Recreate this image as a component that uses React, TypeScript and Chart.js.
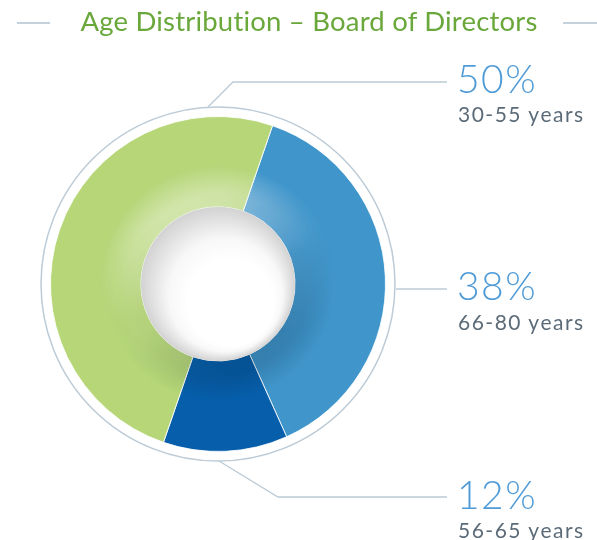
import React, { useEffect, useRef } from "react";
import { Chart, registerables } from "chart.js";

Chart.register(...registerables);

const categories = ["66-80 years", "56-65 years", "30-55 years"];
const shares = [38, 12, 50];
const percentLabels = ["38%", "12%", "50%"];
const sliceColors = ["#4096cb", "#075fab", "#b6d678"];
const titleText = "Age Distribution \u2013 Board of Directors";

const W = 597;
const H = 540;
const LINE = "#bccbd6";

const shadePlugin = {
  id: "shade",
  afterDatasetsDraw(chart: any) {
    const meta = chart.getDatasetMeta(0);
    const arc = meta.data[0];
    if (!arc) return;
    const { x: cx, y: cy, innerRadius: ri, outerRadius: ro } = arc.getProps(["x", "y", "innerRadius", "outerRadius"], true);
    const ctx = chart.ctx;

    const makeLayer = (color: string, a0: number, r1: number, fromTopLeft: boolean) => {
      const off = document.createElement("canvas");
      off.width = W;
      off.height = H;
      const o = off.getContext("2d")!;
      const g = o.createRadialGradient(cx, cy, ri, cx, cy, r1);
      g.addColorStop(0, `rgba(${color},${a0})`);
      g.addColorStop(0.35, `rgba(${color},${a0 * 0.8})`);
      g.addColorStop(1, `rgba(${color},0)`);
      o.fillStyle = g;
      o.beginPath();
      o.arc(cx, cy, ro, 0, Math.PI * 2);
      o.arc(cx, cy, ri, 0, Math.PI * 2, true);
      o.fill();
      o.globalCompositeOperation = "destination-in";
      const lg = fromTopLeft
        ? o.createLinearGradient(cx - ri * 0.4, cy - ri, cx + ri * 0.4, cy + ri)
        : o.createLinearGradient(cx + ri * 0.6, cy + ri, cx - ri * 0.6, cy - ri);
      lg.addColorStop(0, "rgba(0,0,0,1)");
      lg.addColorStop(0.5, "rgba(0,0,0,0.12)");
      lg.addColorStop(1, "rgba(0,0,0,0)");
      o.fillStyle = lg;
      o.fillRect(0, 0, W, H);
      ctx.drawImage(off, 0, 0);
    };
    ctx.save();
    makeLayer("255,255,255", 0.42, ri + 42, true);
    makeLayer("0,20,40", 0.2, ri + 40, false);

    // hole
    const hg = ctx.createRadialGradient(cx + 13, cy + 19, ri * 0.56, cx, cy, ri);
    hg.addColorStop(0, "#ffffff");
    hg.addColorStop(0.4, "#f8f8f8");
    hg.addColorStop(1, "#d2d2d2");
    ctx.fillStyle = hg;
    ctx.beginPath();
    ctx.arc(cx, cy, ri, 0, Math.PI * 2);
    ctx.fill();

    // outer ring
    ctx.strokeStyle = LINE;
    ctx.lineWidth = 1.5;
    ctx.beginPath();
    ctx.arc(cx, cy, ro + 9.5, 0, Math.PI * 2);
    ctx.stroke();

    // leader lines
    const segs: number[][][] = [
      [[-10, -177], [15, -202], [229, -202]],
      [[178, 5], [229, 5]],
      [[1, 177], [60, 213], [229, 213]],
    ];
    ctx.lineWidth = 1.3;
    segs.forEach((pts) => {
      ctx.beginPath();
      pts.forEach(([dx, dy], i) => {
        if (i === 0) ctx.moveTo(cx + dx, cy + dy);
        else ctx.lineTo(cx + dx, cy + dy);
      });
      ctx.stroke();
    });

    // title side lines
    ctx.strokeStyle = "#c3d2dc";
    ctx.lineWidth = 2;
    ctx.beginPath();
    ctx.moveTo(17, 23);
    ctx.lineTo(50, 23);
    ctx.moveTo(563, 23);
    ctx.lineTo(597, 23);
    ctx.stroke();
    ctx.restore();
  },
};

const labelPos = [
  { pctTop: 266, yrsTop: 311 },
  { pctTop: 475, yrsTop: 519 },
  { pctTop: 59, yrsTop: 103 },
];

export default function App() {
  const ref = useRef<HTMLCanvasElement>(null);
  useEffect(() => {
    const chart = new Chart(ref.current!, {
      type: "doughnut",
      data: {
        labels: categories,
        datasets: [
          {
            data: shares,
            backgroundColor: sliceColors,
            borderColor: "rgba(255,255,255,0.85)",
            borderWidth: 1,
          },
        ],
      },
      options: {
        animation: false,
        responsive: false,
        rotation: 19,
        cutout: "46%",
        layout: { padding: { left: 50, right: 211, top: 116, bottom: 88 } },
        plugins: { legend: { display: false }, tooltip: { enabled: false } },
      },
      plugins: [shadePlugin],
    });
    return () => chart.destroy();
  }, []);

  const font = "Lato, 'Open Sans', sans-serif";
  return (
    <div style={{ position: "absolute", left: 0, top: 0, width: W, height: H, background: "#fff", overflow: "hidden" }}>
      <canvas ref={ref} width={W} height={H} style={{ position: "absolute", left: 0, top: 0, width: W, height: H }} />
      <div
        style={{
          position: "absolute",
          left: 0,
          width: 618,
          top: 7,
          textAlign: "center",
          fontFamily: font,
          fontSize: 27.5,
          lineHeight: "28px",
          letterSpacing: 0.2,
          color: "#6aa83c",
          whiteSpace: "nowrap",
        }}
      >
        {titleText}
      </div>
      {categories.map((c, i) => (
        <React.Fragment key={c}>
          <div
            style={{
              position: "absolute",
              left: 457,
              top: labelPos[i].pctTop,
              fontFamily: font,
              fontWeight: 300,
              fontSize: 39,
              lineHeight: "39px",
              letterSpacing: 1.5,
              color: "#4f9bd7",
              whiteSpace: "nowrap",
            }}
          >
            {percentLabels[i]}
          </div>
          <div
            style={{
              position: "absolute",
              left: 458,
              top: labelPos[i].yrsTop,
              fontFamily: font,
              fontSize: 21,
              lineHeight: "21px",
              letterSpacing: 1.5,
              color: "#5c6b78",
              whiteSpace: "nowrap",
            }}
          >
            {c}
          </div>
        </React.Fragment>
      ))}
    </div>
  );
}
